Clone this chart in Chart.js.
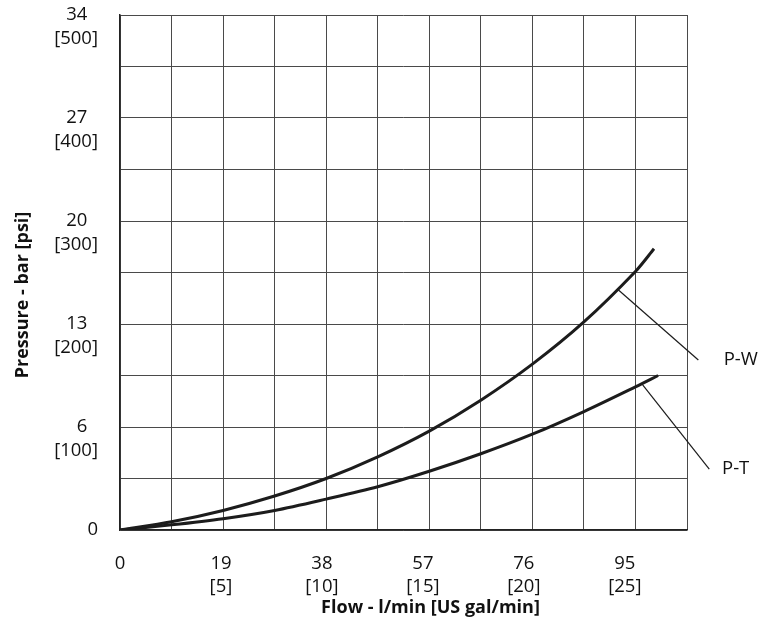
<!DOCTYPE html>
<html>
<head>
<meta charset="utf-8">
<script src="https://cdn.jsdelivr.net/npm/chart.js@4/dist/chart.umd.min.js"></script>
<style>
    html, body { margin: 0; background: #fff; }
    #wrap { width: 760px; height: 635px; }
</style>
</head>
<body>
<div id="wrap"><canvas id="flowChart"></canvas></div>
<script>
// Flow in US gal/min (grid is every 2.5 gal/min), pressure in psi
const pwFlow = [0, 2.5, 5, 7.5, 10, 12.5, 15, 17.5, 20, 22.5, 25, 25.9];
const pwPressure = [0, 8, 19, 33, 50, 71, 96, 126, 161, 202, 251, 273];
const ptFlow = [0, 2.5, 5, 7.5, 10, 12.5, 15, 17.5, 20, 22.5, 25, 26.1];
const ptPressure = [0, 5, 11, 19, 30, 42, 57, 74, 93, 115, 139, 150];

// leader lines from each curve to its name
const curveNames = ['P-W', 'P-T'];
const pwLeaderFlow = [24.12, 28.05, 28.94];
const pwLeaderPressure = [234, 165, 165];
const ptLeaderFlow = [25.35, 28.58, 28.86];
const ptLeaderPressure = [141, 59, 59];

// tick labels
const flowTicksLpm = [0, 19, 38, 57, 76, 95];
const flowTicksGal = ['', '[5]', '[10]', '[15]', '[20]', '[25]'];
const pressureTicksPsi = [0, 100, 200, 300, 400, 500];
const pressureTicksBar = ['0', '6', '13', '20', '27', '34'];

const toPoints = (xs, ys) => xs.map((x, i) => ({ x: x, y: ys[i] }));

const lineColor = '#1c1c1c';
const gridColor = '#4a4a4a';
const textColor = '#111';
const EM = '\u2003';

const curveLabelPlugin = {
    id: 'curveLabels',
    afterDatasetsDraw: (chart) => {
        const ctx = chart.ctx;
        ctx.save();
        ctx.font = '18.5px "Open Sans"';
        ctx.fillStyle = textColor;
        ctx.textAlign = 'left';
        ctx.textBaseline = 'middle';
        [2, 3].forEach((dsIndex, i) => {
            const pts = chart.getDatasetMeta(dsIndex).data;
            const last = pts[pts.length - 1];
            ctx.fillText(curveNames[i], last.x + 7, last.y);
        });
        ctx.restore();
    }
};

const curve = (name, data) => ({
    label: name,
    data: data,
    borderColor: lineColor,
    borderWidth: 3,
    pointRadius: 0,
    tension: 0.3,
    fill: false
});

const leader = (data) => ({
    data: data,
    borderColor: lineColor,
    borderWidth: 1.2,
    pointRadius: 0,
    tension: 0,
    clip: false,
    fill: false
});

// drop the extra room Chart.js reserves for overhanging labels
const noOverhang = (axis) => {
    axis.paddingTop = 0;
    axis.paddingBottom = 0;
    axis.paddingLeft = 0;
    axis.paddingRight = 0;
};

new Chart(document.getElementById('flowChart'), {
    type: 'line',
    data: {
        datasets: [
            curve('P-W', toPoints(pwFlow, pwPressure)),
            curve('P-T', toPoints(ptFlow, ptPressure)),
            leader(toPoints(pwLeaderFlow, pwLeaderPressure)),
            leader(toPoints(ptLeaderFlow, ptLeaderPressure))
        ]
    },
    options: {
        responsive: true,
        maintainAspectRatio: false,
        animation: false,
        events: [],
        layout: {
            autoPadding: false,
            padding: { left: 8, right: 73, top: 15, bottom: 12 }
        },
        plugins: { legend: { display: false }, tooltip: { enabled: false } },
        scales: {
            x: {
                type: 'linear',
                min: 0,
                max: 27.5,
                ticks: { display: false, stepSize: 2.5, autoSkip: false },
                grid: { color: gridColor, lineWidth: 1, drawTicks: false },
                border: { color: '#222', width: 1.5 },
                afterFit: (axis) => { noOverhang(axis); axis.height = 0; }
            },
            xl: {
                type: 'linear',
                position: 'bottom',
                min: 0,
                max: 106.7,
                grid: { display: false, drawTicks: false },
                border: { display: false },
                afterBuildTicks: (axis) => { axis.ticks = flowTicksLpm.map(v => ({ value: v })); },
                ticks: {
                    color: textColor,
                    font: { family: 'Open Sans', size: 18.5, lineHeight: 1.2 },
                    padding: 23,
                    maxRotation: 0,
                    autoSkip: false,
                    callback: (v) => {
                        const i = flowTicksLpm.indexOf(v);
                        if (i < 0) return '';
                        return i === 0 ? String(v) : [String(v), flowTicksGal[i]];
                    }
                },
                title: {
                    display: true,
                    text: EM.repeat(3) + 'Flow - l/min [US gal/min]',
                    color: textColor,
                    font: { family: 'Open Sans', size: 18, weight: 'bold' }
                },
                afterFit: (axis) => { noOverhang(axis); axis.height = 93; }
            },
            y: {
                type: 'linear',
                min: 0,
                max: 500,
                ticks: {
                    stepSize: 50,
                    autoSkip: false,
                    color: textColor,
                    font: { family: 'Open Sans', size: 18.5, lineHeight: 1.26 },
                    padding: 22,
                    crossAlign: 'near',
                    callback: (v) => {
                        const i = pressureTicksPsi.indexOf(v);
                        if (i < 0) return '';
                        if (i === 0) return pressureTicksBar[0];
                        return ['', pressureTicksBar[i] + '\u2007', '[' + v + ']'];
                    }
                },
                grid: { color: gridColor, lineWidth: 1, drawTicks: false },
                border: { color: '#222', width: 1.5 },
                title: {
                    display: true,
                    text: 'Pressure - bar [psi]' + EM.repeat(2) + '\u2002',
                    color: textColor,
                    font: { family: 'Open Sans', size: 18, weight: 'bold' }
                },
                afterFit: (axis) => { noOverhang(axis); axis.width = 112; }
            }
        }
    },
    plugins: [curveLabelPlugin]
});
</script>
</body>
</html>
